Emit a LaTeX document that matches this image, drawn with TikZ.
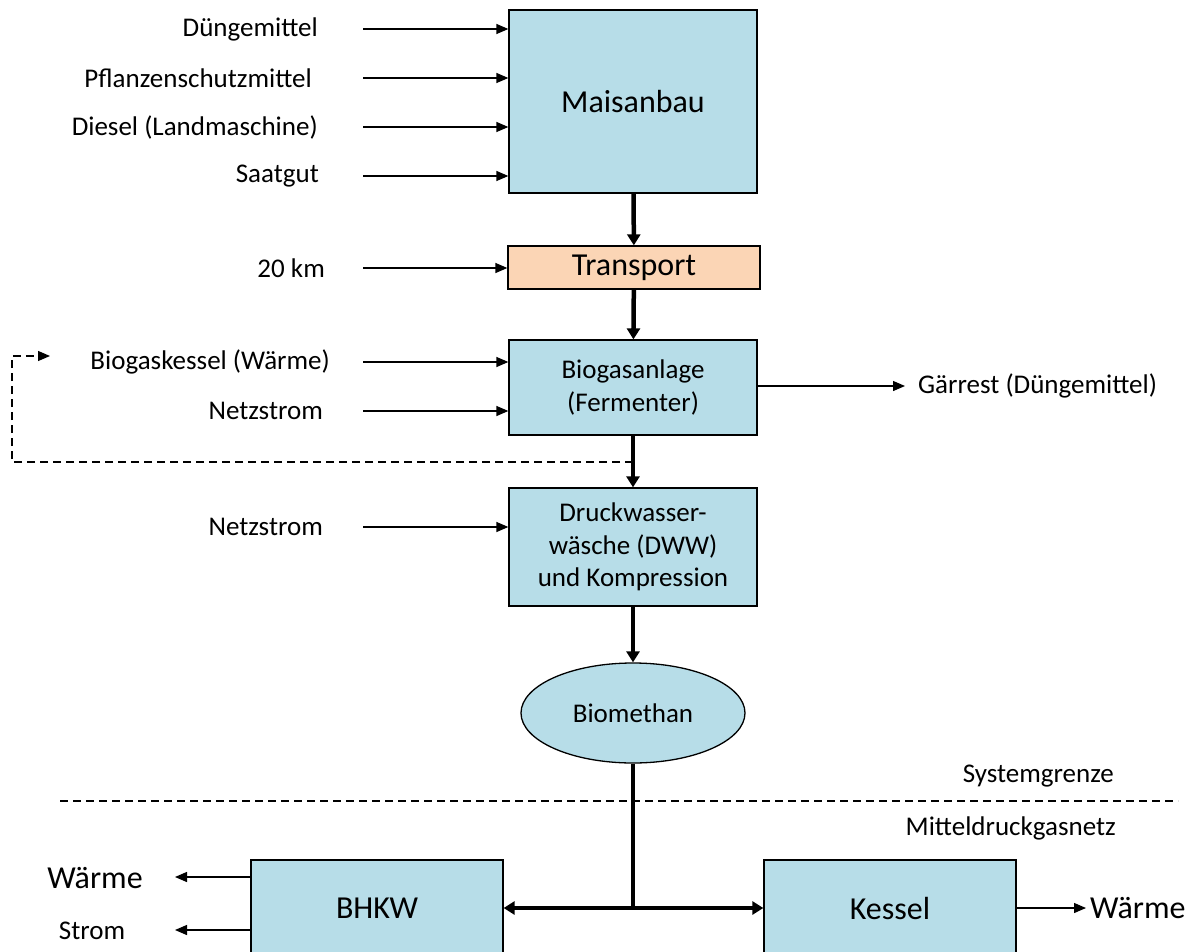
\documentclass[tikz,border=0pt]{standalone}
\usepackage{fontspec}
\setmainfont{Carlito}
\usetikzlibrary{arrows.meta,shapes.geometric}
\definecolor{boxblue}{HTML}{B7DDE8}
\definecolor{boxpeach}{HTML}{FBD5B5}
\begin{document}
\begin{tikzpicture}[x = 1pt, y = -1pt,
    procbox/.style = {draw, line width = 1.3pt, fill = boxblue, inner sep = 0pt, align = center,
      font = \fontsize{27}{32.5}\selectfont},
    lbl/.style = {inner sep = 0pt, font = \fontsize{27}{32.5}\selectfont},
    biglbl/.style = {inner sep = 0pt, font = \fontsize{32}{38}\selectfont},
    thinarrow/.style = {line width = 1.3pt, -{Triangle[length = 12pt, width = 10pt]}},
    thickarrow/.style = {line width = 4.5pt, -{Triangle[length = 11pt, width = 13pt]}},
    feedback/.style = {line width = 1.3pt, dash pattern = on 8pt off 5pt,
      -{Triangle[length = 12pt, width = 10pt]}}]
      \useasboundingbox (0, 0) rectangle (1196, 952);
      \node [procbox, minimum width = 248pt, minimum height = 183pt,
        font = \fontsize{32}{38}\selectfont] (mais) at (633, 101.5) {Maisanbau};
      \node [procbox, fill = boxpeach, minimum width = 252pt, minimum height = 43pt,
        font = \fontsize{32}{38}\selectfont] (trans) at (634, 267.5) {\raisebox{-2pt}{Transport}};
      \node [procbox, minimum width = 248pt, minimum height = 95pt] (biogas) at (633, 387.5)
        {Biogasanlage\\(Fermenter)};
      \node [procbox, minimum width = 248pt, minimum height = 118pt] (dww) at (633, 547)
        {Druckwasser-\\wäsche (DWW)\\und Kompression};
      \node [procbox, ellipse, minimum width = 224pt, minimum height = 100pt] (biometh) at (633, 713)
        {Biomethan};
      \node [procbox, minimum width = 252pt, minimum height = 96pt,
        font = \fontsize{32}{38}\selectfont] (bhkw) at (377, 908) {BHKW};
      \node [procbox, minimum width = 252pt, minimum height = 96pt,
        font = \fontsize{32}{38}\selectfont] (kessel) at (890, 908) {Kessel};
      \foreach \nm/\txt/\xe/\yy in {duenger/D\"ungemittel/318/29, psm/Pflanzenschutzmittel/312/78,
        diesel/{Diesel (Landmaschine)}/318/127, saat/Saatgut/319/176}{
        \node [lbl, anchor = east] (\nm) at (\xe, \yy) {\txt};
        \coordinate (\nm-s) at (363, \yy);
        \draw [thinarrow] (\nm-s) -- (mais.west |- \nm-s);
      }
      \node [lbl, anchor = east] (km) at (325, 268) {20 km};
      \coordinate (km-s) at (363, 268);
      \draw [thinarrow] (km-s) -- (trans.west |- km-s);
      \foreach \nm/\txt/\xe/\yy in {bgk/{Biogaskessel (W\"arme)}/330/362, netz/Netzstrom/323/411}{
        \node [lbl, anchor = east] (\nm) at (\xe, \yy) {\txt};
        \coordinate (\nm-s) at (363, \yy);
        \draw [thinarrow] (\nm-s) -- (biogas.west |- \nm-s);
      }
      \node [lbl, anchor = east] (netzb) at (323, 527) {Netzstrom};
      \coordinate (netzb-s) at (363, 527);
      \draw [thinarrow] (netzb-s) -- (dww.west |- netzb-s);
      \draw [thickarrow] (mais) -- (trans);
      \draw [thickarrow] (trans) -- (biogas);
      \draw [thickarrow] (biogas) -- (dww);
      \draw [thickarrow] (dww) -- (biometh);
      \coordinate (gaer-e) at (905, 386);
      \draw [thinarrow] (biogas.east |- gaer-e) -- (gaer-e);
      \node [lbl, anchor = west] (gaer) at (918, 386) {G\"arrest (D\"ungemittel)};
      \coordinate (fb-a) at (633, 462);
      \coordinate (fb-b) at (12, 356);
      \coordinate (fb-c) at (50, 356);
      \draw [feedback] (fb-a) -| (fb-b) -- (fb-c);
      \coordinate (sg-l) at (60, 801);
      \coordinate (sg-r) at (1178, 801);
      \draw [line width = 1.3pt, dash pattern = on 8pt off 5pt] (sg-l) -- (sg-r);
      \node [lbl, anchor = east] (sg) at (1114, 776) {Systemgrenze};
      \node [lbl, anchor = east] (mdg) at (1116, 828) {Mitteldruckgasnetz};
      \coordinate (junc) at (633, 908);
      \draw [line width = 4.5pt] (biometh.south) -- (junc);
      \draw [thickarrow] (junc) -- (bhkw.east);
      \draw [thickarrow] (junc) -- (kessel.west);
      \coordinate (w1-e) at (175, 877);
      \coordinate (st-e) at (175, 930);
      \draw [thinarrow] (bhkw.west |- w1-e) -- (w1-e);
      \draw [thinarrow] (bhkw.west |- st-e) -- (st-e);
      \node [biglbl] (w1) at (95, 878) {W\"arme};
      \node [lbl] (st) at (92, 931) {Strom};
      \coordinate (w2-e) at (1086, 908);
      \draw [thinarrow] (kessel.east) -- (w2-e);
      \node [biglbl, anchor = west] (w2) at (1090, 908) {W\"arme};
    \end{tikzpicture}
\end{document}
